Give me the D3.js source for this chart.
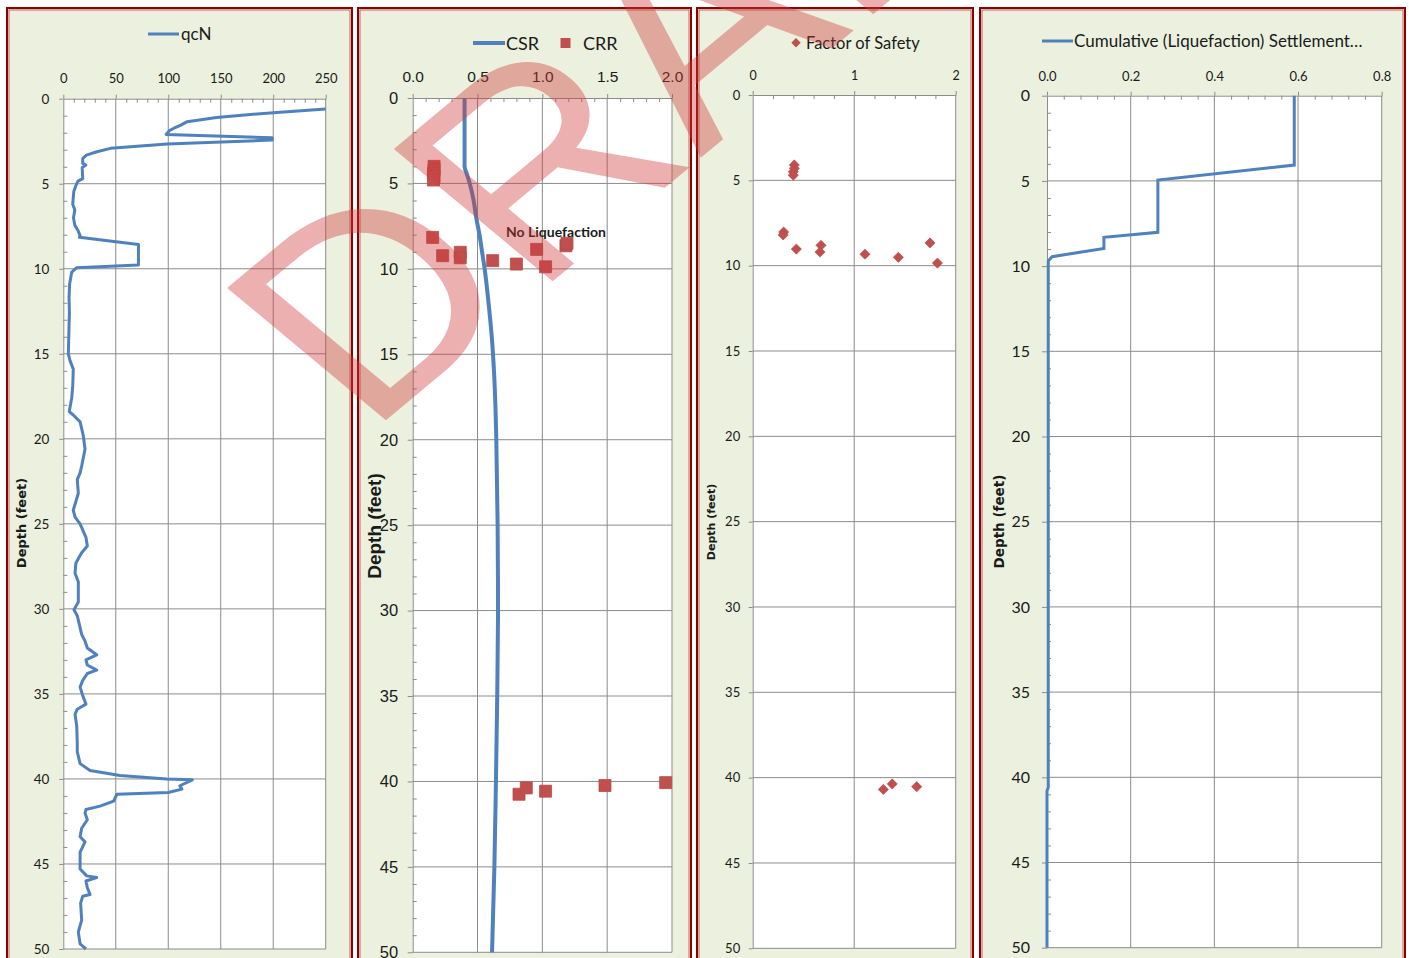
<!DOCTYPE html>
<html>
<head>
<meta charset="utf-8">
<script src="https://cdn.jsdelivr.net/npm/d3@7"></script>
<style>
  body { margin: 0; background: #ffffff; }
  svg { display: block; }
</style>
</head>
<body>
<svg id="chart" width="1409" height="958"></svg>
<script>
// ---------- CPT data (depth in feet) ----------
const qcnDepth = [0.6, 0.82, 1.1, 1.35, 1.55, 1.75, 1.88, 2.1, 2.3, 2.43, 2.67, 2.92, 3.12, 3.32, 3.52, 3.8, 3.9, 4.05, 4.7, 4.85,
  5.1, 5.45, 6.2, 6.55, 7.0, 7.45, 7.75, 8.05, 8.15, 8.57, 9.78, 9.94, 10.2, 10.9, 11.7, 12.6, 15.0, 15.4, 15.9, 16.9,
  17.6, 18.4, 18.6, 19.0, 19.8, 20.6, 21.6, 22.0, 22.4, 23.2, 24.2, 24.6, 25.0, 25.8, 26.3, 26.7, 27.3, 27.9, 28.4, 29.6,
  30.05, 30.4, 31.1, 31.5, 31.9, 32.3, 32.7, 33.0, 33.3, 33.6, 33.8, 34.2, 34.6, 35.1, 35.6, 35.9, 36.2, 36.9, 37.9, 38.4,
  39.1, 39.5, 39.8, 40.0, 40.05, 40.4, 40.6, 40.8, 40.9, 41.3, 41.6, 41.8, 42.0, 42.4, 42.9, 43.4, 43.7, 44.3, 45.3, 45.7,
  45.8, 46.0, 46.4, 46.8, 46.9, 47.3, 48.3, 49.0, 49.7, 50.0];
const qcnValue = [250, 200, 146, 118, 112, 105, 101, 98, 199, 199, 99, 45, 32, 22, 18.5, 18.5, 21.5, 18, 18.5, 14,
  12, 10, 9, 11, 9.7, 11, 14, 16, 15.3, 71.6, 71.6, 12.8, 8, 6, 5.5, 5.8, 4.8, 6.4, 9.5, 9,
  8, 5.7, 9.5, 16, 19, 20.7, 17.5, 16, 13.3, 14.3, 9.5, 11.2, 16, 21.6, 22.9, 17.5, 12, 11.2, 14.3, 14.3,
  10.2, 13.3, 16, 17.5, 20.7, 22.9, 31.8, 21.6, 22.9, 31.8, 22.9, 18.5, 16, 18.5, 21.6, 13.3, 11.2, 12.8, 13.3, 13.3,
  16, 25.5, 54, 98.6, 123, 111, 113, 100, 51, 48, 35, 21.6, 20.7, 22.9, 17.5, 16, 20.7, 16, 16, 22.3,
  31.8, 21.6, 22.9, 25.5, 18.5, 16.5, 17.5, 14.3, 16, 21.6];

// cyclic stress ratio profile
const csrDepth = [0, 4.0, 4.5, 5, 6, 7, 8, 9, 10, 12, 14, 16, 18, 20, 25, 30, 35, 40, 45, 50];
const csrValue = [0.40, 0.40, 0.42, 0.44, 0.47, 0.49, 0.515, 0.535, 0.555, 0.585, 0.61, 0.627, 0.638, 0.645, 0.655, 0.658, 0.652, 0.642, 0.630, 0.612];

// cyclic resistance ratio points
const crrDepth = [4.0, 4.2, 4.4, 4.6, 4.8, 8.16, 9.23, 9.03, 9.35, 9.52, 9.72, 8.86, 9.88, 8.65, 8.5,
  40.75, 40.38, 40.57, 40.24, 40.07];
const crrValue = [0.165, 0.165, 0.16, 0.165, 0.16, 0.154, 0.231, 0.367, 0.367, 0.617, 0.80, 0.956, 1.025, 1.182, 1.19,
  0.82, 0.876, 1.025, 1.483, 1.951];

// factor of safety points
const fosDepth = [4.1, 4.3, 4.5, 4.7, 8.03, 8.2, 9.03, 8.81, 9.2, 9.33, 9.51, 8.67, 9.85, 40.69, 40.37, 40.53];
const fosValue = [0.41, 0.41, 0.40, 0.40, 0.305, 0.30, 0.43, 0.673, 0.663, 1.106, 1.435, 1.747, 1.82, 1.287, 1.375, 1.616];

// cumulative settlement (inches)
const settleDepth = [0, 4.07, 4.95, 8.02, 8.31, 8.96, 9.45, 9.7, 40.6, 40.8, 50];
const settleValue = [0.591, 0.591, 0.265, 0.265, 0.136, 0.136, 0.012, 0.003, 0.003, 0.0, 0.0];

// axis ticks
const depthTicks = d3.range(0, 51, 5);
const depthMinor = d3.range(0, 51, 1).filter(d => d % 5 !== 0);
const qcnTicks = [0, 50, 100, 150, 200, 250];
const qcnMinor = d3.range(0, 251, 10).filter(d => d % 50 !== 0);
const ratioTicks = [0, 0.5, 1.0, 1.5, 2.0];
const ratioMinor = d3.range(0, 21, 1).filter(d => d % 5 !== 0).map(d => d / 10);
const fosTicks = [0, 1, 2];
const fosMinor = [0.2, 0.4, 0.6, 0.8, 1.2, 1.4, 1.6, 1.8];
const settleTicks = [0, 0.2, 0.4, 0.6, 0.8];
const settleMinor = d3.range(0, 21, 1).filter(d => d % 5 !== 0).map(d => d * 0.04);

// ---------- styling ----------
const BG = "#EBF1DE";
const GRID = "#8C8C8C";
const BLUE = "#4F81BD";
const RED = "#C0504D";
const FRAME = "#8B0000";

const svg = d3.select("#chart");

function buildPanel(p) {
  const g = svg.append("g");
  g.append("rect")
    .attr("x", p.frame[0]).attr("y", p.frame[1])
    .attr("width", p.frame[2]).attr("height", 990)
    .attr("fill", BG).attr("stroke", FRAME).attr("stroke-width", 2);
  g.append("rect")
    .attr("x", p.frame[0] + 2).attr("y", p.frame[1] + 2)
    .attr("width", p.frame[2] - 4).attr("height", 990)
    .attr("fill", "none").attr("stroke", "#C46262").attr("stroke-width", 1);

  const x = d3.scaleLinear().domain(p.xDomain).range(p.xRange);
  const y = d3.scaleLinear().domain([0, 50]).range(p.yRange);

  g.append("rect")
    .attr("x", x(p.xDomain[0])).attr("y", y(0))
    .attr("width", x(p.xDomain[1]) - x(p.xDomain[0]))
    .attr("height", y(50) - y(0))
    .attr("fill", "#ffffff");

  // gridlines
  g.append("g").selectAll("line").data(p.xTicks.slice(1)).join("line")
    .attr("x1", d => x(d)).attr("x2", d => x(d))
    .attr("y1", y(0)).attr("y2", y(50))
    .attr("stroke", GRID).attr("stroke-width", 1);
  g.append("g").selectAll("line").data(depthTicks.slice(1)).join("line")
    .attr("x1", x(p.xDomain[0])).attr("x2", x(p.xDomain[1]))
    .attr("y1", d => y(d)).attr("y2", d => y(d))
    .attr("stroke", GRID).attr("stroke-width", 1);

  // minor ticks (inside)
  const mx = g.append("g").attr("transform", `translate(0,${y(0)})`)
    .call(d3.axisTop(x).tickValues(p.xMinor).tickSize(-4).tickFormat(""));
  mx.select(".domain").remove();
  mx.selectAll("line").attr("stroke", GRID);
  if (p.yMinor) {
    const my = g.append("g").attr("transform", `translate(${x(p.xDomain[0])},0)`)
      .call(d3.axisLeft(y).tickValues(depthMinor).tickSize(-4).tickFormat(""));
    my.select(".domain").remove();
    my.selectAll("line").attr("stroke", GRID);
  }

  // major axes
  const ax = g.append("g").attr("transform", `translate(0,${y(0)})`)
    .call(d3.axisTop(x).tickValues(p.xTicks).tickSize(4).tickSizeOuter(0)
      .tickPadding(p.xPad).tickFormat(p.xFmt));
  ax.attr("font-family", p.xFont).attr("font-size", p.xSize);
  ax.selectAll("line, path").attr("stroke", GRID);
  ax.selectAll("text").attr("fill", "#1a1a1a");

  const ay = g.append("g").attr("transform", `translate(${x(p.xDomain[0])},0)`)
    .call(d3.axisLeft(y).tickValues(depthTicks).tickSize(p.yTick).tickSizeOuter(0)
      .tickPadding(p.yPad).tickFormat(d3.format("d")));
  ay.attr("font-family", p.yFont).attr("font-size", p.ySize);
  ay.selectAll("line, path").attr("stroke", GRID);
  ay.selectAll("text").attr("fill", "#1a1a1a");

  // depth title
  g.append("text")
    .attr("transform", `translate(${p.title[0]},${p.title[1]}) rotate(-90)`)
    .attr("text-anchor", "middle")
    .attr("font-family", p.titleFont).attr("font-weight", "bold")
    .attr("font-size", p.titleSize).attr("fill", "#1a1a1a")
    .text("Depth (feet)");

  return { g, x, y };
}

// ---------- panel 1: normalized tip resistance ----------
const p1 = buildPanel({
  frame: [7, 8, 345], xDomain: [0, 250], xRange: [63.3, 325.7], yRange: [98.7, 949],
  xTicks: qcnTicks, xMinor: qcnMinor, yMinor: true, xFmt: d3.format("d"),
  xPad: 11.5, xFont: "Lato", xSize: 13, yTick: 4, yPad: 10, yFont: "Lato", ySize: 13.5,
  title: [26, 523], titleFont: "DejaVu Sans", titleSize: 13
});
p1.g.append("path")
  .datum(d3.zip(qcnDepth, qcnValue))
  .attr("fill", "none").attr("stroke", BLUE).attr("stroke-width", 3)
  .attr("stroke-linejoin", "round")
  .attr("d", d3.line().x(d => p1.x(d[1])).y(d => p1.y(d[0])));
p1.g.append("line").attr("x1", 148).attr("x2", 179).attr("y1", 34).attr("y2", 34)
  .attr("stroke", BLUE).attr("stroke-width", 3);
p1.g.append("text").attr("x", 181).attr("y", 40).attr("font-family", "Lato")
  .attr("font-size", 17).attr("fill", "#1a1a1a").text("qcN");

// ---------- panel 2: CSR / CRR ----------
const p2 = buildPanel({
  frame: [358, 8, 333], xDomain: [0, 2], xRange: [412.7, 672], yRange: [98, 952.3],
  xTicks: ratioTicks, xMinor: ratioMinor, yMinor: true, xFmt: d3.format(".1f"),
  xPad: 12, xFont: "Liberation Sans", xSize: 15.5, yTick: 5, yPad: 9.5, yFont: "Liberation Sans", ySize: 16.5,
  title: [381, 526], titleFont: "Liberation Sans", titleSize: 19
});
p2.g.append("path")
  .datum(d3.zip(csrDepth, csrValue))
  .attr("fill", "none").attr("stroke", BLUE).attr("stroke-width", 4)
  .attr("d", d3.line().curve(d3.curveMonotoneY).x(d => p2.x(d[1])).y(d => p2.y(d[0])));
p2.g.append("g").selectAll("path").data(d3.zip(crrDepth, crrValue)).join("path")
  .attr("transform", d => `translate(${p2.x(d[1])},${p2.y(d[0])})`)
  .attr("d", d3.symbol(d3.symbolSquare, 144))
  .attr("fill", RED).attr("stroke", "#B84A47").attr("stroke-width", 0.8);
p2.g.append("text").attr("x", 506).attr("y", 237).attr("font-family", "Lato")
  .attr("font-weight", "bold").attr("font-size", 14).attr("fill", "#1a1a1a").text("No Liquefaction");
p2.g.append("line").attr("x1", 473).attr("x2", 505).attr("y1", 43).attr("y2", 43)
  .attr("stroke", BLUE).attr("stroke-width", 4);
p2.g.append("text").attr("x", 506).attr("y", 49.5).attr("font-family", "Lato")
  .attr("font-size", 18).attr("fill", "#1a1a1a").text("CSR");
p2.g.append("path").attr("transform", "translate(565.5,43)")
  .attr("d", d3.symbol(d3.symbolSquare, 100)).attr("fill", RED);
p2.g.append("text").attr("x", 583).attr("y", 49.5).attr("font-family", "Lato")
  .attr("font-size", 18).attr("fill", "#1a1a1a").text("CRR");

// ---------- panel 3: factor of safety ----------
const p3 = buildPanel({
  frame: [697, 8, 276], xDomain: [0, 2], xRange: [752.7, 955.7], yRange: [95, 948.3],
  xTicks: fosTicks, xMinor: fosMinor, yMinor: false, xFmt: d3.format("d"),
  xPad: 11, xFont: "Lato", xSize: 12.5, yTick: 4, yPad: 8.5, yFont: "Lato", ySize: 13,
  title: [715, 522], titleFont: "DejaVu Sans", titleSize: 11
});
const diamond = d3.symbol(d3.symbolSquare, 52);
p3.g.append("g").selectAll("path").data(d3.zip(fosDepth, fosValue)).join("path")
  .attr("transform", d => `translate(${p3.x(d[1])},${p3.y(d[0])}) rotate(45)`)
  .attr("d", diamond)
  .attr("fill", RED).attr("stroke", "#B84A47").attr("stroke-width", 0.6);
p3.g.append("path").attr("transform", "translate(796,42.7) rotate(45)")
  .attr("d", d3.symbol(d3.symbolSquare, 44)).attr("fill", RED);
p3.g.append("text").attr("x", 806).attr("y", 48.5).attr("font-family", "Lato")
  .attr("font-size", 16.5).attr("fill", "#1a1a1a").text("Factor of Safety");

// ---------- panel 4: cumulative settlement ----------
const p4 = buildPanel({
  frame: [980, 8, 425], xDomain: [0, 0.8], xRange: [1047, 1381.7], yRange: [95.7, 947.7],
  xTicks: settleTicks, xMinor: settleMinor, yMinor: true, xFmt: d3.format(".1f"),
  xPad: 11, xFont: "Lato", xSize: 13, yTick: 5, yPad: 12, yFont: "Lato", ySize: 16,
  title: [1004, 521.5], titleFont: "DejaVu Sans", titleSize: 13.5
});
p4.g.append("path")
  .datum(d3.zip(settleDepth, settleValue))
  .attr("fill", "none").attr("stroke", BLUE).attr("stroke-width", 3)
  .attr("d", d3.line().x(d => p4.x(d[1])).y(d => p4.y(d[0])));
p4.g.append("line").attr("x1", 1042).attr("x2", 1073).attr("y1", 41).attr("y2", 41)
  .attr("stroke", BLUE).attr("stroke-width", 3);
p4.g.append("text").attr("x", 1074).attr("y", 47).attr("font-family", "Lato")
  .attr("font-size", 17).attr("fill", "#1a1a1a").text("Cumulative (Liquefaction) Settlement…");

// ---------- watermark ----------
svg.append("text")
  .attr("transform", "translate(367,436) scale(1.2,1) rotate(-45)")
  .attr("font-family", "Liberation Sans")
  .attr("font-size", 272)
  .attr("fill", "#D03A3A").attr("fill-opacity", 0.4)
  .text("DRAFT");
</script>
</body>
</html>
